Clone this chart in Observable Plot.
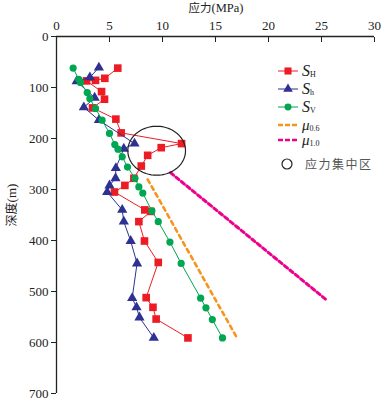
<!DOCTYPE html>
<html>
<head>
<meta charset="utf-8">
<script src="https://cdn.jsdelivr.net/npm/d3@7"></script>
<script src="https://cdn.jsdelivr.net/npm/@observablehq/plot@0.6"></script>
<style>
  html, body { margin: 0; padding: 0; background: #fff; }
  #wrap { position: relative; width: 385px; height: 403px; }
  #overlay { position: absolute; left: 0; top: 0; pointer-events: none; }
</style>
</head>
<body>
<div id="wrap"></div>
<script>
// ---- data ----
const xTicks = [0, 5, 10, 15, 20, 25, 30];
const yTicks = [0, 100, 200, 300, 400, 500, 600, 700];

const shDepth = [62, 82, 86, 87, 108, 123, 140, 162, 189, 210, 218, 233, 254, 278, 292, 305, 340, 343, 363, 401, 443, 512, 531, 554, 591];
const shValue = [5.78, 4.56, 3.68, 2.83, 4.25, 4.53, 3.40, 5.6, 6.1, 11.8, 9.88, 8.6, 8.0, 7.3, 6.45, 5.47, 8.33, 8.9, 7.77, 8.3, 9.6, 8.46, 9.1, 9.4, 12.4];

const sLowDepth = [61, 80, 88, 120, 139, 164, 210, 220, 258, 278, 292, 305, 340, 363, 401, 445, 513, 531, 551, 591];
const sLowValue = [4.0, 3.15, 1.9, 3.6, 2.58, 4.0, 7.36, 6.35, 5.6, 5.57, 5.0, 4.78, 6.2, 6.35, 7.0, 7.6, 7.14, 7.55, 7.83, 9.18];

const svDepth = [62, 84, 90, 110, 122, 141, 164, 190, 212, 221, 236, 256, 278, 295, 307, 342, 363, 403, 445, 513, 532, 555, 591];
const svValue = [1.57, 2.1, 2.26, 2.9, 3.15, 3.68, 4.3, 5.0, 5.5, 5.8, 6.2, 6.7, 7.4, 7.77, 8.14, 9.0, 9.6, 10.7, 11.76, 13.6, 14.1, 14.7, 15.66];

const mu06Depth = [280, 590];
const mu06Value = [8.6, 17.0];
const mu10Depth = [267, 517];
const mu10Value = [10.75, 25.5];

// stress concentration zone (ellipse): center value, center depth, radius in MPa, radius in m
const zoneCenter = [9.45, 224];
const zoneRadius = [2.72, 48];

// ---- tables ----
const pts = (ds, vs) => ds.map((d, i) => ({depth: d, value: vs[i]}));
const SH = pts(shDepth, shValue);
const Sh = pts(sLowDepth, sLowValue);
const SV = pts(svDepth, svValue);
const MU06 = pts(mu06Depth, mu06Value);
const MU10 = pts(mu10Depth, mu10Value);
const ellipse = d3.range(0, 101).map(i => {
  const t = (i / 100) * 2 * Math.PI;
  return {value: zoneCenter[0] + zoneRadius[0] * Math.cos(t), depth: zoneCenter[1] + zoneRadius[1] * Math.sin(t)};
});

const RED = "#ed1c24", BLUE = "#2e3192", GREEN = "#00a651", ORANGE = "#f7941d", MAGENTA = "#ec008c";
const serif = "'Liberation Serif', 'Times New Roman', serif";

const chart = Plot.plot({
  width: 385,
  height: 403,
  marginLeft: 56,
  marginRight: 11,
  marginTop: 36,
  marginBottom: 10,
  style: {fontFamily: serif, fontSize: "13px", color: "#222", background: "transparent", overflow: "visible"},
  x: {domain: [0, 30]},
  y: {domain: [0, 700], reverse: true},
  marks: [
    Plot.axisX(xTicks, {anchor: "top", tickSize: -5, tickPadding: 12, label: null, fontSize: 13}),
    Plot.axisY(yTicks, {anchor: "left", tickSize: 5, tickPadding: 3, label: null, fontSize: 13}),
    Plot.ruleY([0], {stroke: "#222", strokeWidth: 1.3}),
    Plot.ruleX([0], {stroke: "#222", strokeWidth: 1.3}),
    Plot.line(SH, {x: "value", y: "depth", stroke: RED, strokeWidth: 1}),
    Plot.dot(SH, {x: "value", y: "depth", symbol: "square", r: 4.3, fill: RED}),
    Plot.line(Sh, {x: "value", y: "depth", stroke: BLUE, strokeWidth: 1}),
    Plot.dot(Sh, {x: "value", y: "depth", symbol: "triangle", r: 3.8, fill: BLUE}),
    Plot.line(SV, {x: "value", y: "depth", stroke: GREEN, strokeWidth: 1}),
    Plot.dot(SV, {x: "value", y: "depth", symbol: "circle", r: 3.6, fill: GREEN}),
    Plot.line(MU06, {x: "value", y: "depth", stroke: ORANGE, strokeWidth: 2.6, strokeDasharray: "4 4"}),
    Plot.line(MU10, {x: "value", y: "depth", stroke: MAGENTA, strokeWidth: 3, strokeDasharray: "4 3"}),
    Plot.line(ellipse, {x: "value", y: "depth", stroke: "#222", strokeWidth: 1.2})
  ]
});

const wrap = document.getElementById("wrap");
wrap.appendChild(chart);

// ---- overlay: titles and legend ----
const svg = d3.select(wrap).append("svg")
  .attr("id", "overlay").attr("width", 385).attr("height", 403);

// top title
const title = svg.append("text").attr("x", 216).attr("y", 12).attr("text-anchor", "middle")
  .style("font-size", "12.5px").attr("fill", "#222");
title.append("tspan").style("font-family", "'Noto Sans CJK SC'").style("font-size", "11.5px").text("应力");
title.append("tspan").style("font-family", serif).text("(MPa)");

// y label
const yl = svg.append("text").attr("transform", "translate(16,205) rotate(-90)").attr("text-anchor", "middle")
  .style("font-size", "13px").attr("fill", "#222");
yl.append("tspan").style("font-family", "'Noto Sans CJK SC'").style("font-size", "12px").text("深度");
yl.append("tspan").style("font-family", serif).text("(m)");

// legend
const items = [
  {y: 71, color: RED, symbol: d3.symbolSquare, size: 50, main: "S", sub: "H"},
  {y: 89, color: BLUE, symbol: d3.symbolTriangle, size: 40, main: "S", sub: "h"},
  {y: 107, color: GREEN, symbol: d3.symbolCircle, size: 38, main: "S", sub: "V"},
  {y: 125, color: ORANGE, dash: "5,2", width: 2.5, main: "μ", sub: "0.6"},
  {y: 140, color: MAGENTA, dash: "5,2", width: 2.5, main: "μ", sub: "1.0"}
];
const x0 = 278, x1 = 298;
items.forEach(it => {
  svg.append("line").attr("x1", x0).attr("x2", x1).attr("y1", it.y).attr("y2", it.y)
    .attr("stroke", it.color).attr("stroke-width", it.width || 1)
    .attr("stroke-dasharray", it.dash || null);
  if (it.symbol) {
    svg.append("path").attr("d", d3.symbol(it.symbol, it.size)())
      .attr("transform", `translate(${(x0 + x1) / 2},${it.y})`).attr("fill", it.color);
  }
  const t = svg.append("text").attr("x", 302).attr("y", it.y + 5)
    .style("font-family", serif).attr("fill", "#222");
  t.append("tspan").style("font-style", "italic").style("font-size", it.main === "S" ? "16px" : "15px").text(it.main);
  t.append("tspan").style("font-size", "8px").attr("dy", 1).text(it.sub);
});
// concentration-zone legend
svg.append("circle").attr("cx", 287).attr("cy", 164).attr("r", 5)
  .attr("fill", "none").attr("stroke", "#222").attr("stroke-width", 1.2);
svg.append("text").attr("x", 305).attr("y", 168.5)
  .style("font-family", "'Noto Sans CJK SC'").style("font-size", "12px").style("letter-spacing", "1.5px")
  .attr("fill", "#555").text("应力集中区");
</script>
</body>
</html>
